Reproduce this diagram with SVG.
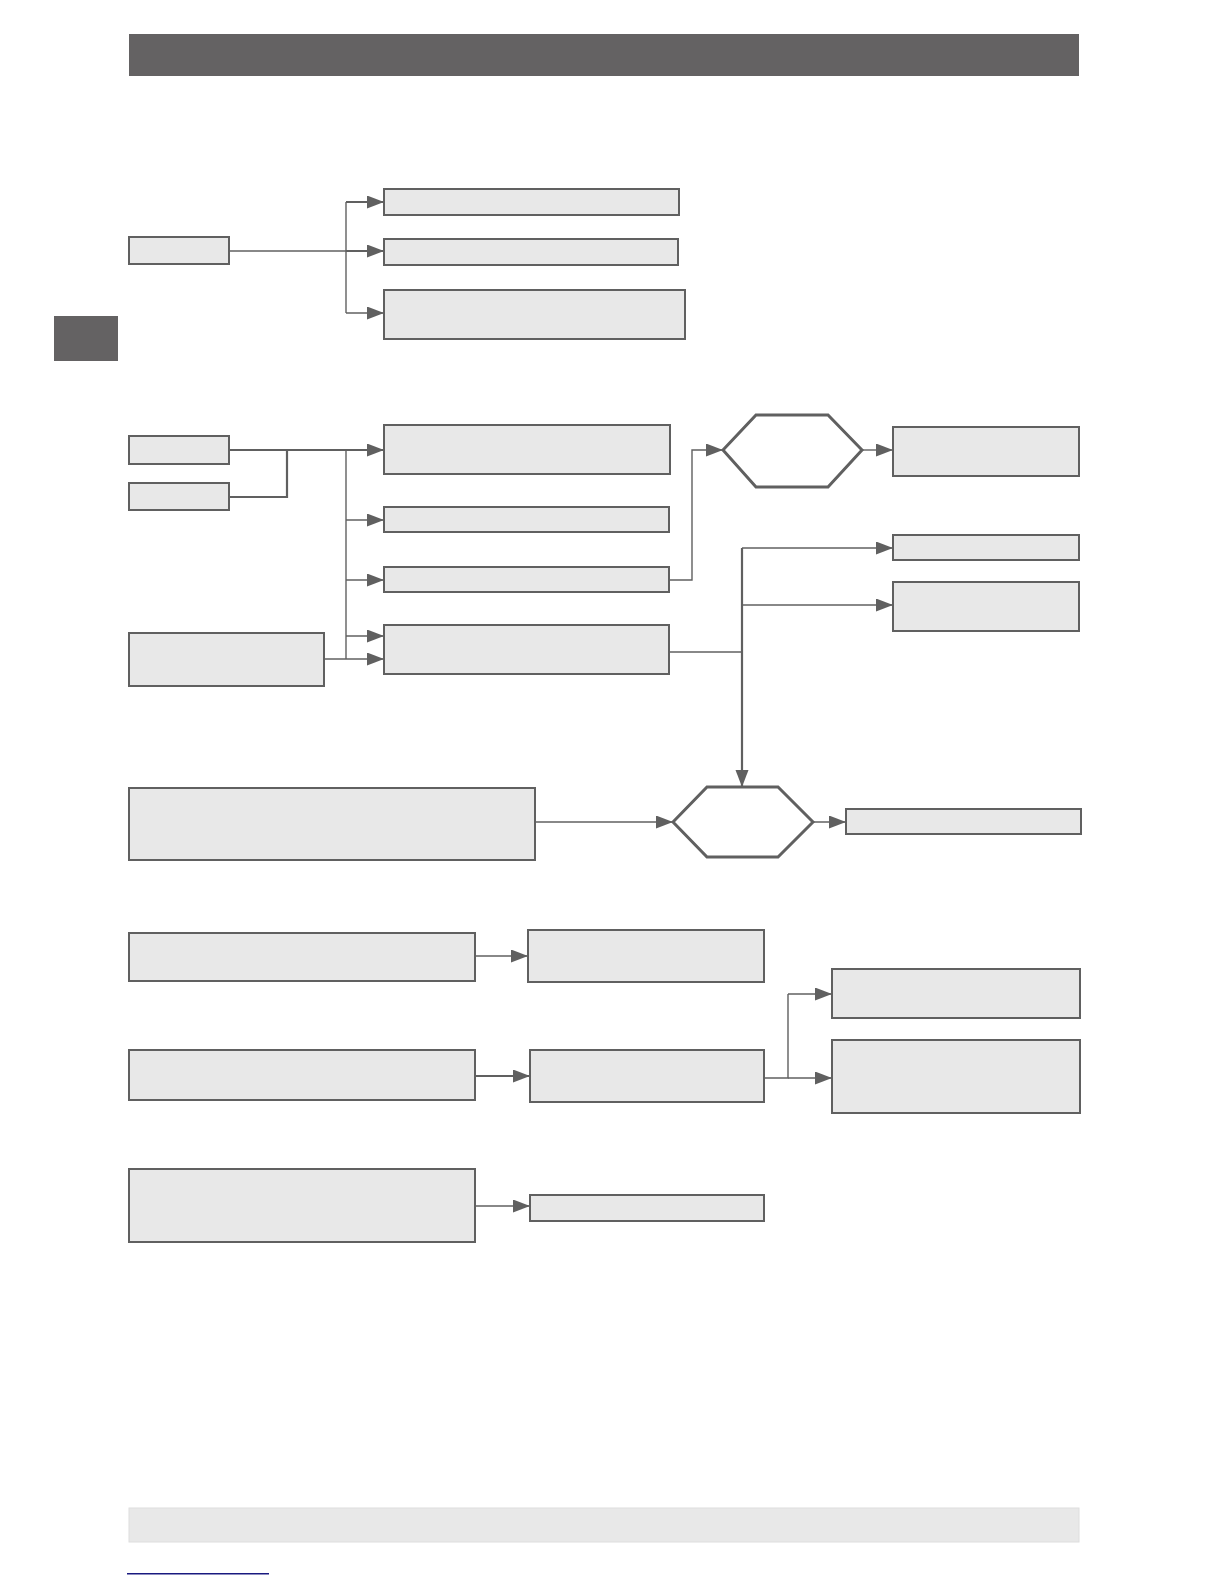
<svg xmlns="http://www.w3.org/2000/svg" width="1224" height="1584" viewBox="0 0 1224 1584">
<style>
.box{fill:#e8e8e8;stroke:#606060;stroke-width:2}
.hex{fill:#ffffff;stroke:#606060;stroke-width:3;stroke-linejoin:miter}
.ln{fill:none;stroke:#606060;stroke-width:1.4}
.lnb{fill:none;stroke:#606060;stroke-width:2.2}
.arr{marker-end:url(#ah)}
</style>
<defs>
<marker id="ah" markerUnits="userSpaceOnUse" markerWidth="18" markerHeight="14" refX="17" refY="6.5" orient="auto">
<path d="M0,0 L17,6.5 L0,13 z" fill="#606060"/>
</marker>
</defs>
<rect width="1224" height="1584" fill="#ffffff"/>
<g id="header"><rect x="129" y="34" width="950" height="42" fill="#646263"/></g>
<g id="sidetab"><rect x="54" y="316" width="64" height="45" fill="#646263"/></g>
<g id="footer"><rect x="129" y="1508" width="950" height="34" fill="#e8e8e8" stroke="#dedede" stroke-width="1"/></g>
<g id="underline"><rect x="127" y="1573" width="142" height="1.5" fill="#1a1a80"/></g>

<g id="connectors">
<!-- section 1 -->
<path class="ln" d="M229,251 H346"/>
<path class="ln" d="M346,202 V313"/>
<path class="lnb arr" d="M346,202 H384"/>
<path class="lnb arr" d="M346,251 H384"/>
<path class="ln arr" d="M346,313 H384"/>
<!-- section 2 -->
<path class="lnb arr" d="M229,450 H384"/>
<path class="lnb" d="M229,497 H287 V450"/>
<path class="ln" d="M346,450 V659"/>
<path class="ln arr" d="M346,520 H384"/>
<path class="ln arr" d="M346,580 H384"/>
<path class="ln arr" d="M346,636 H384"/>
<path class="ln arr" d="M324,659 H384"/>
<path class="ln arr" d="M669,580 H692 V450 H723"/>
<path class="ln arr" d="M862,450 H893"/>
<path class="ln" d="M669,652 H742"/>
<path class="lnb arr" d="M742,548 V787"/>
<path class="ln arr" d="M742,548 H893"/>
<path class="ln arr" d="M742,605 H893"/>
<path class="ln arr" d="M535,822 H673"/>
<path class="ln arr" d="M813,822 H846"/>
<!-- section 3 -->
<path class="ln arr" d="M475,956 H528"/>
<path class="lnb arr" d="M475,1076 H530"/>
<path class="ln" d="M764,1078 H788 V994"/>
<path class="ln arr" d="M788,994 H832"/>
<path class="ln arr" d="M788,1078 H832"/>
<path class="ln arr" d="M475,1206 H530"/>
</g>

<g id="nodeA"><rect class="box" x="129" y="237" width="100" height="27"/></g>
<g id="nodeB1"><rect class="box" x="384" y="189" width="295" height="26"/></g>
<g id="nodeB2"><rect class="box" x="384" y="239" width="294" height="26"/></g>
<g id="nodeB3"><rect class="box" x="384" y="290" width="301" height="49"/></g>

<g id="nodeC1"><rect class="box" x="129" y="436" width="100" height="28"/></g>
<g id="nodeC2"><rect class="box" x="129" y="483" width="100" height="27"/></g>
<g id="nodeE"><rect class="box" x="129" y="633" width="195" height="53"/></g>
<g id="nodeD1"><rect class="box" x="384" y="425" width="286" height="49"/></g>
<g id="nodeD2"><rect class="box" x="384" y="507" width="285" height="25"/></g>
<g id="nodeD3"><rect class="box" x="384" y="567" width="285" height="25"/></g>
<g id="nodeD4"><rect class="box" x="384" y="625" width="285" height="49"/></g>
<g id="hex1"><polygon class="hex" points="723,450 756,415 828,415 862,450 828,487 756,487"/></g>
<g id="nodeF1"><rect class="box" x="893" y="427" width="186" height="49"/></g>
<g id="nodeF2"><rect class="box" x="893" y="535" width="186" height="25"/></g>
<g id="nodeF3"><rect class="box" x="893" y="582" width="186" height="49"/></g>
<g id="nodeBig"><rect class="box" x="129" y="788" width="406" height="72"/></g>
<g id="hex2"><polygon class="hex" points="673,822 707,787 778,787 813,822 778,857 707,857"/></g>
<g id="nodeG"><rect class="box" x="846" y="809" width="235" height="25"/></g>

<g id="nodeJ1"><rect class="box" x="129" y="933" width="346" height="48"/></g>
<g id="nodeK1"><rect class="box" x="528" y="930" width="236" height="52"/></g>
<g id="nodeJ2"><rect class="box" x="129" y="1050" width="346" height="50"/></g>
<g id="nodeK2"><rect class="box" x="530" y="1050" width="234" height="52"/></g>
<g id="nodeL1"><rect class="box" x="832" y="969" width="248" height="49"/></g>
<g id="nodeL2"><rect class="box" x="832" y="1040" width="248" height="73"/></g>
<g id="nodeJ3"><rect class="box" x="129" y="1169" width="346" height="73"/></g>
<g id="nodeM"><rect class="box" x="530" y="1195" width="234" height="26"/></g>
</svg>
